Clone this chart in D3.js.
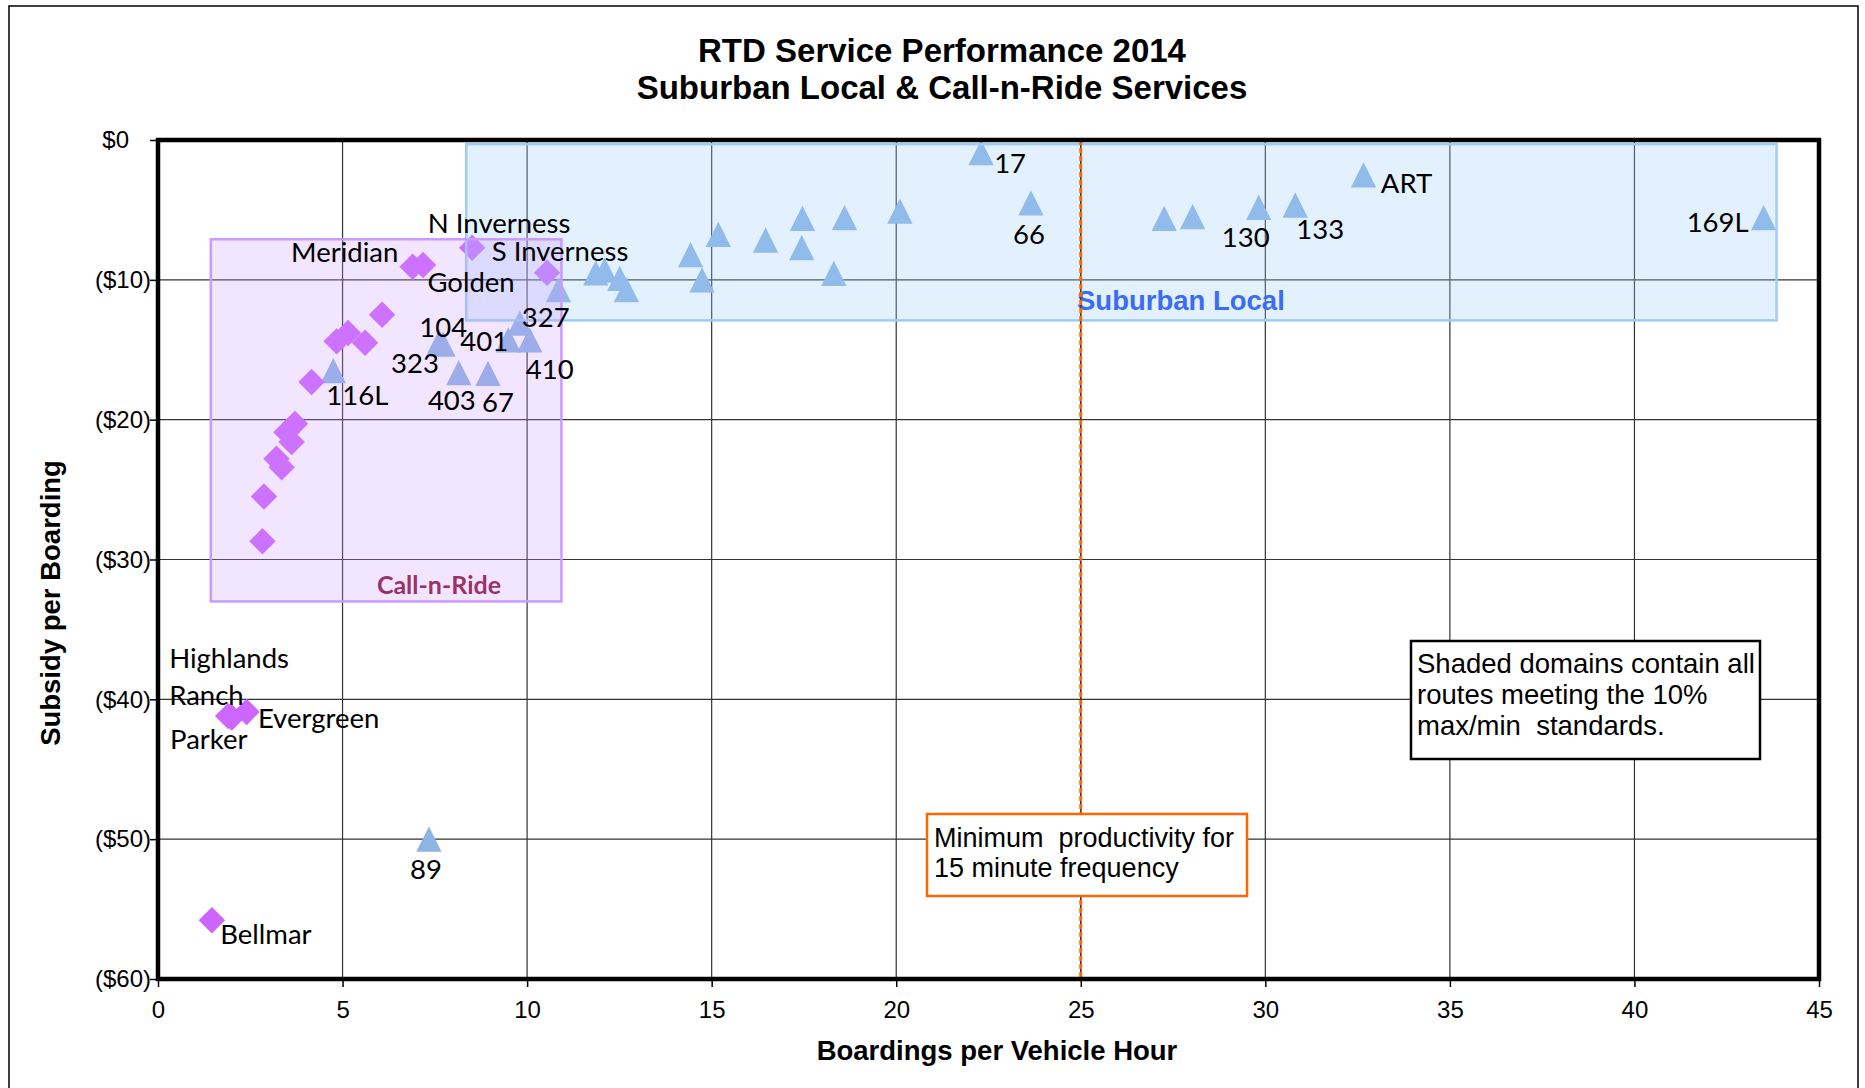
<!DOCTYPE html>
<html>
<head>
<meta charset="utf-8">
<script src="https://cdn.jsdelivr.net/npm/d3@7"></script>
<style>
  body { margin: 0; background: #fff; }
  svg text { font-family: "Liberation Sans", Arial, sans-serif; fill: #000; }
  svg text.lbl { font-family: Lato, "Open Sans", sans-serif; }
</style>
</head>
<body>
<svg id="chart" width="1865" height="1088"></svg>
<script>
// Call-n-Ride services (diamonds)
var cnrNames   = ["Bellmar", "Highlands Ranch", "Parker", "Evergreen", "", "", "", "", "", "", "", "", "", "", "", "", "Meridian", "Golden", "N Inverness", "S Inverness"];
var cnrBoard   = [1.46, 1.9, 2.0, 2.4, 2.83, 2.87, 3.21, 3.35, 3.48, 3.62, 3.71, 4.16, 4.84, 5.15, 5.61, 6.07, 6.90, 7.18, 8.51, 10.54];
var cnrSubsidy = [-55.8, -41.2, -41.3, -40.9, -28.7, -25.5, -22.8, -23.4, -20.9, -21.6, -20.3, -17.3, -14.4, -13.8, -14.5, -12.5, -9.06, -8.94, -7.7, -9.49];

// Suburban Local routes (triangles)
var slNames   = ["116L", "104", "323", "89", "403", "67", "401", "327", "410", "", "", "", "", "", "", "", "", "", "", "", "", "", "", "17", "66", "", "", "130", "133", "ART", "169L"];
var slBoard   = [4.75, 7.62, 7.72, 7.34, 8.15, 8.94, 9.49, 9.80, 10.07, 10.85, 11.86, 12.1, 12.51, 12.69, 14.43, 14.74, 15.18, 16.46, 17.46, 17.44, 18.31, 18.6, 20.1, 22.3, 23.65, 27.26, 28.03, 29.82, 30.81, 32.66, 43.5];
var slSubsidy = [-16.5, -14.45, -14.6, -50.0, -16.64, -16.69, -14.3, -13.1, -14.3, -10.7, -9.5, -9.3, -9.9, -10.7, -8.2, -10.0, -6.75, -7.15, -5.6, -7.7, -9.54, -5.55, -5.08, -0.9, -4.5, -5.6, -5.48, -4.82, -4.65, -2.5, -5.55];

// shaded domains (10% max/min standards)
var domNames = ["Suburban Local", "Call-n-Ride"];
var domX0 = [8.35, 1.43];
var domX1 = [43.85, 10.93];
var domY0 = [-0.3, -7.1];
var domY1 = [-12.9, -33.0];

var minProductivity = 25;

var xTicks = [0, 5, 10, 15, 20, 25, 30, 35, 40, 45];
var yTicks = [0, -10, -20, -30, -40, -50, -60];
var yTickLabels = ["$0", "($10)", "($20)", "($30)", "($40)", "($50)", "($60)"];

// where each data label sits relative to its marker (px)
var labelOffset = {
  "17": [29, 10], "66": [-2, 31], "130": [-13, 29], "133": [25, 23], "ART": [43, 8], "169L": [-46, 4],
  "89": [-3, 29], "116L": [24, 24], "104": [4, -16], "323": [-28, 18], "403": [-7, 27], "67": [10, 28],
  "401": [-24, 1], "327": [26, -7], "410": [20, 29],
  "Bellmar": [54, 13], "Parker": [-23, 21], "Evergreen": [72, 6], "Meridian": [-68, -15],
  "Golden": [48, 16], "N Inverness": [27, -25], "S Inverness": [13, -22]
};

var plot = {x0: 158, x1: 1819, y0: 140, y1: 979};

var svg = d3.select("#chart");

var x = d3.scaleLinear().domain([0, 45]).range([plot.x0, plot.x1]);
var y = d3.scaleLinear().domain([-60, 0]).range([plot.y1, plot.y0]);

// outer chart border
svg.append("rect")
  .attr("x", 9).attr("y", 6).attr("width", 1849).attr("height", 1100)
  .attr("fill", "none").attr("stroke", "#000").attr("stroke-width", 1.5);

// title
svg.append("text").attr("x", 942).attr("y", 50)
  .attr("text-anchor", "middle").attr("dominant-baseline", "central")
  .style("font-size", "33px").style("font-weight", "bold")
  .text("RTD Service Performance 2014");
svg.append("text").attr("x", 942).attr("y", 87)
  .attr("text-anchor", "middle").attr("dominant-baseline", "central")
  .style("font-size", "33px").style("font-weight", "bold")
  .text("Suburban Local & Call-n-Ride Services");

// gridlines
svg.append("g").selectAll("line")
  .data(xTicks.slice(1, -1))
  .enter().append("line")
    .attr("x1", function(d) { return x(d); }).attr("x2", function(d) { return x(d); })
    .attr("y1", plot.y0).attr("y2", plot.y1)
    .attr("stroke", "#333").attr("stroke-width", 1.2);
svg.append("g").selectAll("line")
  .data(yTicks.slice(1, -1))
  .enter().append("line")
    .attr("x1", plot.x0).attr("x2", plot.x1)
    .attr("y1", function(d) { return y(d); }).attr("y2", function(d) { return y(d); })
    .attr("stroke", "#333").attr("stroke-width", 1.2);

// marker shapes
var diamond = {
  draw: function(ctx, size) {
    var r = Math.sqrt(size) / 2;
    ctx.moveTo(0, -r); ctx.lineTo(r, 0); ctx.lineTo(0, r); ctx.lineTo(-r, 0); ctx.closePath();
  }
};
var triangle = {
  draw: function(ctx, size) {
    var r = Math.sqrt(size) / 2;
    ctx.moveTo(0, -r); ctx.lineTo(r, r); ctx.lineTo(-r, r); ctx.closePath();
  }
};

var slData = slBoard.map(function(b, i) { return {name: slNames[i], x: b, y: slSubsidy[i]}; });
var cnrData = cnrBoard.map(function(b, i) { return {name: cnrNames[i], x: b, y: cnrSubsidy[i]}; });

svg.append("g").selectAll("path")
  .data(slData)
  .enter().append("path")
    .attr("d", d3.symbol(triangle, 640))
    .attr("transform", function(d) { return "translate(" + x(d.x) + "," + y(d.y) + ")"; })
    .attr("fill", "#8db4e2");

svg.append("g").selectAll("path")
  .data(cnrData)
  .enter().append("path")
    .attr("d", d3.symbol(diamond, 700))
    .attr("transform", function(d) { return "translate(" + x(d.x) + "," + y(d.y) + ")"; })
    .attr("fill", "#cc66ff");

// shaded domains, drawn over the markers
var domFill = ["#99ccff", "#cc99ff"];
var domStroke = ["#9fcbf8", "#cc99ff"];
var domOpacity = [0.28, 0.25];
domNames.forEach(function(n, i) {
  svg.append("rect")
    .attr("x", x(domX0[i])).attr("y", y(domY0[i]))
    .attr("width", x(domX1[i]) - x(domX0[i]))
    .attr("height", y(domY1[i]) - y(domY0[i]))
    .attr("fill", domFill[i]).attr("fill-opacity", domOpacity[i])
    .attr("stroke", domStroke[i]).attr("stroke-width", 2.5);
});

svg.append("text").attr("x", 1077).attr("y", 300)
  .attr("dominant-baseline", "central")
  .style("font-size", "27.5px").style("font-weight", "bold").style("fill", "#3b6cf6")
  .text("Suburban Local");
svg.append("text").attr("class", "lbl").attr("x", 439).attr("y", 584)
  .attr("text-anchor", "middle").attr("dominant-baseline", "central")
  .style("font-size", "25px").style("font-weight", "bold").style("fill", "#993366")
  .text("Call-n-Ride");

// minimum productivity line
svg.append("line")
  .attr("x1", x(minProductivity)).attr("x2", x(minProductivity))
  .attr("y1", plot.y0).attr("y2", plot.y1)
  .attr("stroke", "#333").attr("stroke-width", 1.2);
svg.append("line")
  .attr("x1", x(minProductivity)).attr("x2", x(minProductivity))
  .attr("y1", plot.y0).attr("y2", plot.y1)
  .attr("stroke", "#ff6600").attr("stroke-width", 3)
  .attr("stroke-dasharray", "5,3");

// data labels
function addLabels(data) {
  data.filter(function(d) { return labelOffset[d.name]; }).forEach(function(d) {
    var o = labelOffset[d.name];
    svg.append("text").attr("class", "lbl")
      .attr("x", x(d.x) + o[0]).attr("y", y(d.y) + o[1])
      .attr("text-anchor", "middle").attr("dominant-baseline", "central")
      .style("font-size", "27.5px")
      .text(d.name);
  });
}
addLabels(slData);
addLabels(cnrData);

// Highlands Ranch label runs on two lines
var hr = cnrData[1];
var hrWords = hr.name.split(" ");
svg.append("text").attr("class", "lbl")
  .attr("x", x(hr.x) - 59).attr("y", y(hr.y) - 59)
  .attr("dominant-baseline", "central").style("font-size", "27.5px")
  .text(hrWords[0]);
svg.append("text").attr("class", "lbl")
  .attr("x", x(hr.x) - 59).attr("y", y(hr.y) - 22)
  .attr("dominant-baseline", "central").style("font-size", "27.5px")
  .text(hrWords[1]);

// plot frame
svg.append("rect")
  .attr("x", plot.x0).attr("y", plot.y0)
  .attr("width", plot.x1 - plot.x0).attr("height", plot.y1 - plot.y0)
  .attr("fill", "none").attr("stroke", "#000").attr("stroke-width", 4.5);

// axes
var yAxis = svg.append("g")
  .attr("transform", "translate(" + plot.x0 + ",0)")
  .call(d3.axisLeft(y).tickValues(yTicks).tickSize(8).tickSizeOuter(0).tickPadding(-1)
    .tickFormat(function(d, i) { return yTickLabels[i]; }));
yAxis.select(".domain").remove();
yAxis.selectAll("line").attr("stroke", "#000").attr("stroke-width", 1.5);
yAxis.selectAll("text").style("font-size", "24px").attr("font-family", null)
  .attr("dx", function(d) { return d === 0 ? -22 : 0; });

var xAxis = svg.append("g")
  .attr("transform", "translate(0," + plot.y1 + ")")
  .call(d3.axisBottom(x).tickValues(xTicks).tickSize(8).tickSizeOuter(0).tickPadding(14));
xAxis.select(".domain").remove();
xAxis.selectAll("line").attr("stroke", "#000").attr("stroke-width", 1.5);
xAxis.selectAll("text").style("font-size", "24px").attr("font-family", null);

// axis titles
svg.append("text").attr("x", 997).attr("y", 1050)
  .attr("text-anchor", "middle").attr("dominant-baseline", "central")
  .style("font-size", "27.5px").style("font-weight", "bold")
  .text("Boardings per Vehicle Hour");
svg.append("text")
  .attr("transform", "translate(50,603) rotate(-90)")
  .attr("text-anchor", "middle").attr("dominant-baseline", "central")
  .style("font-size", "27.5px").style("font-weight", "bold")
  .text("Subsidy per Boarding");

// annotation boxes
svg.append("rect").attr("x", 927).attr("y", 814).attr("width", 320).attr("height", 82)
  .attr("fill", "#fff").attr("stroke", "#ff6600").attr("stroke-width", 2.5);
["Minimum  productivity for", "15 minute frequency"].forEach(function(t, i) {
  svg.append("text").attr("x", 934).attr("y", 838 + i * 30)
    .attr("dominant-baseline", "central").style("font-size", "27px")
    .style("white-space", "pre").text(t);
});

svg.append("rect").attr("x", 1411).attr("y", 641).attr("width", 349).attr("height", 118)
  .attr("fill", "#fff").attr("stroke", "#000").attr("stroke-width", 2.5);
["Shaded domains contain all", "routes meeting the 10%", "max/min  standards."].forEach(function(t, i) {
  svg.append("text").attr("x", 1417).attr("y", 663 + i * 31)
    .attr("dominant-baseline", "central").style("font-size", "27.5px")
    .style("white-space", "pre").text(t);
});
</script>
</body>
</html>
